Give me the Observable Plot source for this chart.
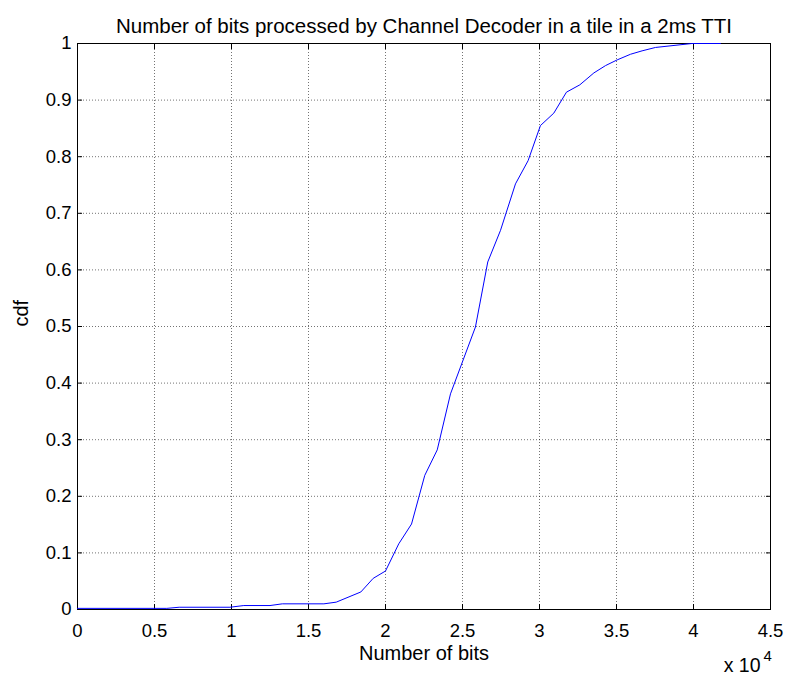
<!DOCTYPE html>
<html>
<head>
<meta charset="utf-8">
<script src="https://cdn.jsdelivr.net/npm/d3@7"></script>
<script src="https://cdn.jsdelivr.net/npm/@observablehq/plot@0.6"></script>
<style>
  html, body { margin: 0; padding: 0; background: #fff; }
</style>
</head>
<body>
<div id="chart"></div>
<script>
const titleText = "Number of bits processed by Channel Decoder in a tile in a 2ms TTI";
const xLabel = "Number of bits";
const yLabel = "cdf";
const xTicks = [0, 5000, 10000, 15000, 20000, 25000, 30000, 35000, 40000, 45000];
const yTicks = [0, 0.1, 0.2, 0.3, 0.4, 0.5, 0.6, 0.7, 0.8, 0.9, 1];
const bits = [0, 5800, 6600, 9900, 10800, 12500, 13300, 16000, 16800, 18400, 19200, 20000, 20860, 21690, 22550, 23360, 24220, 25840, 26640, 27470, 28440, 29260, 30060, 30930, 31750, 32620, 33530, 34290, 35040, 35910, 36660, 37530, 39900, 41750];
const cdf  = [0.002, 0.002, 0.004, 0.004, 0.007, 0.007, 0.010, 0.010, 0.013, 0.031, 0.055, 0.068, 0.116, 0.151, 0.237, 0.282, 0.381, 0.499, 0.614, 0.670, 0.752, 0.793, 0.855, 0.877, 0.914, 0.927, 0.948, 0.961, 0.971, 0.981, 0.987, 0.993, 1.0, 1.0];

const data = bits.map((b, i) => ({bits: b, cdf: cdf[i]}));
const fmtX = d => String(d / 1e4);
const fmtY = d => String(+d.toFixed(1));
const grid = {stroke: "#000", strokeOpacity: 0.55, strokeDasharray: "1,2"};
const blank = () => "";

const chart = Plot.plot({
  width: 790,
  height: 684,
  marginLeft: 77,
  marginRight: 20,
  marginTop: 43,
  marginBottom: 75,
  style: {fontFamily: "'Liberation Sans', Arial, sans-serif", fontSize: "18.5px", color: "#000", background: "#fff"},
  x: {domain: [0, 45000]},
  y: {domain: [0, 1]},
  marks: [
    Plot.gridX(xTicks, grid),
    Plot.gridY(yTicks, grid),
    // labels
    Plot.axisX(xTicks, {anchor: "bottom", tickSize: 0, tickPadding: 14, tickFormat: fmtX, label: null}),
    Plot.axisY(yTicks, {anchor: "left", tickSize: 0, tickPadding: 6, tickFormat: fmtY, label: null}),
    // inward tick marks on all four sides
    Plot.axisX(xTicks, {anchor: "bottom", tickSize: 5, dy: -5, tickFormat: blank, label: null}),
    Plot.axisX(xTicks, {anchor: "top", tickSize: 5, dy: 5, tickFormat: blank, label: null}),
    Plot.axisY(yTicks, {anchor: "left", tickSize: 5, dx: 5, tickFormat: blank, label: null}),
    Plot.axisY(yTicks, {anchor: "right", tickSize: 5, dx: -5, tickFormat: blank, label: null}),
    Plot.frame({stroke: "#000", strokeWidth: 1}),
    Plot.line(data, {x: "bits", y: "cdf", stroke: "#0000ff", strokeWidth: 1}),
    Plot.text([titleText], {frameAnchor: "top", dy: -25, fontSize: 20.5}),
    Plot.text([xLabel], {frameAnchor: "bottom", dy: 50, fontSize: 20}),
    Plot.text([yLabel], {frameAnchor: "left", dx: -56, rotate: -90, fontSize: 20}),
    Plot.text(["x 10"], {frameAnchor: "bottom-right", textAnchor: "end", dx: -10, dy: 62, fontSize: 19.5}),
    Plot.text(["4"], {frameAnchor: "bottom-right", textAnchor: "start", dx: -7, dy: 51, fontSize: 15})
  ]
});
document.getElementById("chart").appendChild(chart);
</script>
</body>
</html>
